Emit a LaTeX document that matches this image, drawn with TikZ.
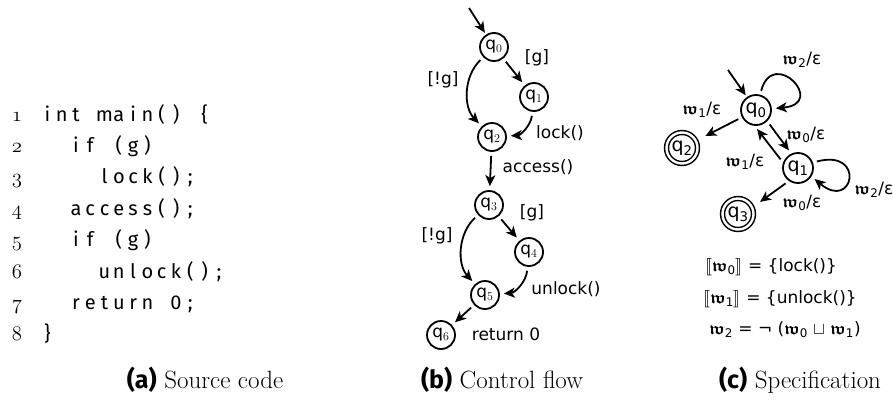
\documentclass[tikz,border=0pt]{standalone}
\usepackage{amssymb}
\usepackage{bm}
\usepackage{stmaryrd}
\usepackage[no-math]{fontspec}
\usetikzlibrary{arrows.meta}
\newfontfamily\lblfont{DejaVu Sans}
\newfontfamily\codefont{Fira Sans}
\makeatletter
\newcommand\codeln[1]{\@tfor\cl@c:=#1\do{\makebox[14.3pt]{\cl@c}}}
\makeatother
\newcommand\lnum[1]{$\mathchar\numexpr"0130+#1\relax$}
\newcommand\fw[1]{$\bm{\mathfrak{w}}$\textsubscript{#1}}
\tikzset{
  codest/.style={font=\codefont\fontsize{20}{20}\selectfont, inner sep=0pt, anchor=base west},
  lnumst/.style={font=\fontsize{20}{20}\selectfont, inner sep=0pt, anchor=base},
  st/.style={circle, draw, line width=1.8pt, minimum size=28pt, inner sep=0pt, font=\lblfont\fontsize{17}{17}\selectfont},
  sp/.style={circle, draw, line width=1.8pt, minimum size=30pt, inner sep=0pt, font=\lblfont\fontsize{19}{19}\selectfont},
  acc/.style={sp, double, double distance=2.4pt, line width=1.5pt, minimum size=31pt},
  ar/.style={-{Stealth[length=11pt,width=10pt,inset=3pt]}, line width=1.8pt, shorten >=4pt, shorten <=4pt},
  lb/.style={font=\lblfont\fontsize{17}{17}\selectfont, inner sep=0pt},
  eq/.style={font=\lblfont\fontsize{17}{17}\selectfont, inner sep=0pt},
  captext/.style={font=\fontsize{25}{25}\selectfont, inner sep=0pt}
}
\begin{document}
\begin{tikzpicture}[x=1pt,y=-1pt]
\useasboundingbox (0,0) rectangle (893,399);
% (a) source code
\node[lnumst] (n1) at (17,121) {\lnum{1}};
\node[lnumst] (n2) at (17,152.4) {\lnum{2}};
\node[lnumst] (n3) at (17,183.8) {\lnum{3}};
\node[lnumst] (n4) at (17,215.2) {\lnum{4}};
\node[lnumst] (n5) at (17,246.6) {\lnum{5}};
\node[lnumst] (n6) at (17,278) {\lnum{6}};
\node[lnumst] (n7) at (17,309.4) {\lnum{7}};
\node[lnumst] (n8) at (17,340.8) {\lnum{8}};
\node[codest] (l1) at (40,121) {\codeln{int~main()~\{}};
\node[codest] (l2) at (40,152.4) {\codeln{~~if~(g)}};
\node[codest] (l3) at (40,183.8) {\codeln{~~~~lock();}};
\node[codest] (l4) at (40,215.2) {\codeln{~~access();}};
\node[codest] (l5) at (40,246.6) {\codeln{~~if~(g)}};
\node[codest] (l6) at (40,278) {\codeln{~~~~unlock();}};
\node[codest] (l7) at (40,309.4) {\codeln{~~return~0;}};
\node[codest] (l8) at (40,340.8) {\codeln{\}}};
% (b) control flow
\node[st] (b0) at (494,47) {q$_0$};
\node[st] (b1) at (534,97) {q$_1$};
\node[st] (b2) at (492,137) {q$_2$};
\node[st] (b3) at (489,205) {q$_3$};
\node[st] (b4) at (529,252) {q$_4$};
\node[st] (b5) at (485,295) {q$_5$};
\node[st] (b6) at (441,335) {q$_6$};
\coordinate (bs) at (469,8);
\draw[ar, shorten <=0pt, shorten >=2pt] (bs) -- (b0);
\draw[ar] (b0) -- (b1);
\draw[ar] (b0) to[bend right=45] (b2);
\draw[ar] (b1) to[bend left=40] (b2);
\draw[ar] (b2) -- (b3);
\draw[ar] (b3) -- (b4);
\draw[ar] (b3) to[bend right=45] (b5);
\draw[ar] (b4) to[bend left=40] (b5);
\draw[ar] (b5) -- (b6);
\node[lb] (bl1) at (537,58) {[g]};
\node[lb] (bl2) at (443,80) {[!g]};
\node[lb] (bl3) at (560,133) {lock()};
\node[lb] (bl4) at (538,167) {access()};
\node[lb] (bl5) at (532,213) {[g]};
\node[lb] (bl6) at (437,236) {[!g]};
\node[lb] (bl7) at (566,289) {unlock()};
\node[lb] (bl8) at (506,334) {return 0};
% (c) specification
\node[sp] (c0) at (756,110) {q\textsubscript{0}};
\node[sp] (c1) at (798,168) {q\textsubscript{1}};
\node[acc] (c2) at (682,148) {q\textsubscript{2}};
\node[acc] (c3) at (738,214) {q\textsubscript{3}};
\coordinate (cs) at (728,70);
\draw[ar, shorten <=0pt, shorten >=2pt] (cs) -- (c0);
\draw[ar] (c0.75) .. controls +(75:50pt) and +(5:56pt) .. (c0.5);
\draw[ar, shorten >=10pt] (c0) -- (c2);
\draw[ar] (c0.-45) -- (c1.115);
\draw[ar] (c1.160) -- (c0.-95);
\draw[ar, shorten >=9pt] (c1.-125) -- (c3.25);
\draw[ar] (c1.20) .. controls +(15:55pt) and +(-40:55pt) .. (c1.-32);
\node[lb] (cl1) at (802,60) {\fw{2}/ε};
\node[lb] (cl2) at (702,110) {\fw{1}/ε};
\node[lb] (cl3) at (806,135) {\fw{0}/ε};
\node[lb] (cl4) at (745,162) {\fw{1}/ε};
\node[lb] (cl5) at (874,190) {\fw{2}/ε};
\node[lb] (cl6) at (802,203) {\fw{0}/ε};
\node[eq] (e1) at (771,267) {$\llbracket\bm{\mathfrak{w}}$\textsubscript{0}$\rrbracket$ = \{lock()\}};
\node[eq] (e2) at (780,299) {$\llbracket\bm{\mathfrak{w}}$\textsubscript{1}$\rrbracket$ = \{unlock()\}};
\node[eq] (e3) at (785,330) {\fw{2} = ¬ (\fw{0} $\sqcup$ \fw{1})};
% captions
\node[captext] (capa) at (205,380) {{\codefont\bfseries (a)} Source code};
\node[captext] (capb) at (502,380) {{\codefont\bfseries (b)} Control flow};
\node[captext] (capc) at (800,380) {{\codefont\bfseries (c)} Specification};
\end{tikzpicture}
\end{document}
